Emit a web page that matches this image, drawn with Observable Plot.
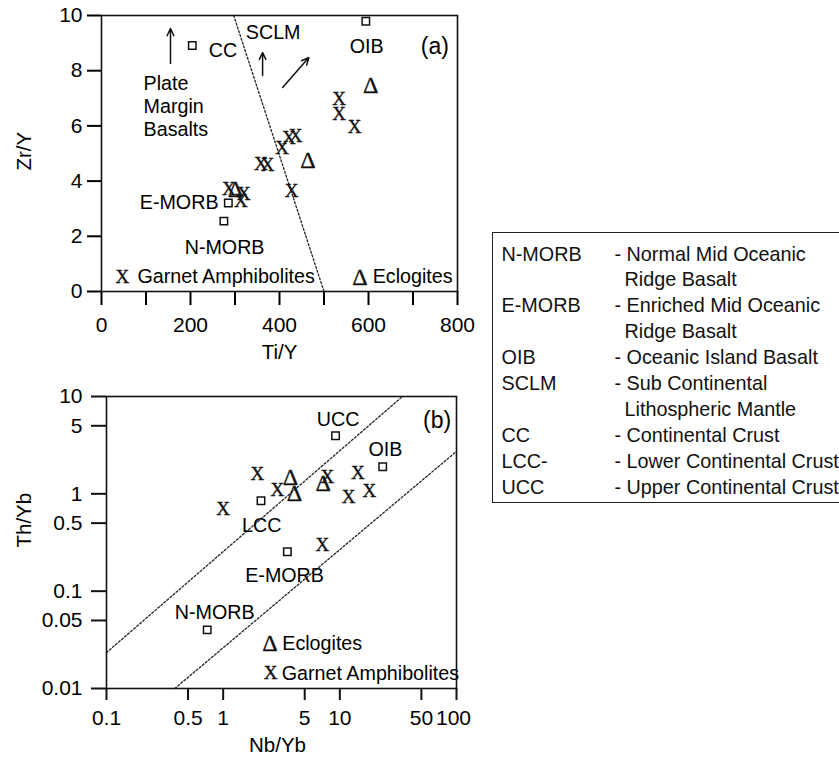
<!DOCTYPE html>
<html><head><meta charset="utf-8">
<script src="https://cdn.jsdelivr.net/npm/d3@7"></script>
<script src="https://cdn.jsdelivr.net/npm/@observablehq/plot@0.6"></script>
<style>
body{margin:0;background:#fff;width:839px;height:763px;overflow:hidden;position:relative;font-family:"Liberation Sans",Arial,sans-serif;color:#000;}
#a{position:absolute;left:0;top:0}
#b{position:absolute;left:0;top:375px}
svg{display:block}
#legend{position:absolute;left:492px;top:232px;width:360px;height:271px;border:1.5px solid #222;box-sizing:border-box;}
.cell{position:absolute;font-size:19.8px;line-height:26px;white-space:nowrap;color:#111}
</style></head><body>
<div id="a"></div><div id="b"></div><div id="legend"></div>
<script>
// ---------- Panel (a): Zr/Y vs Ti/Y ----------
const aRefNames = ["CC", "OIB", "E-MORB", "N-MORB"];
const aRefTiY   = [204, 594, 285, 275];
const aRefZrY   = [8.91, 9.79, 3.21, 2.55];

const aGarnetTiY = [286, 320, 313, 358, 373, 406, 421, 436, 427, 534, 534, 569];
const aGarnetZrY = [3.73, 3.55, 3.30, 4.64, 4.57, 5.22, 5.58, 5.65, 3.66, 6.99, 6.45, 5.98];

const aEclogiteTiY = [605, 464, 301];
const aEclogiteZrY = [7.46, 4.75, 3.72];

const aBoundaryTiY = [297, 500];
const aBoundaryZrY = [10, 0];

const aXTicks = [0, 100, 200, 300, 400, 500, 600, 700, 800];
const aYTicks = [0, 2, 4, 6, 8, 10];

// annotation arrows (Ti/Y, Zr/Y)
const aArrowX1 = [155, 362, 407];
const aArrowY1 = [8.26, 7.83, 7.39];
const aArrowX2 = [155, 362, 466];
const aArrowY2 = [9.53, 8.66, 8.48];

// ---------- Panel (b): Th/Yb vs Nb/Yb ----------
const bRefNames = ["UCC", "OIB", "LCC", "E-MORB", "N-MORB"];
const bRefNbYb  = [9.19, 23.3, 2.11, 3.55, 0.73];
const bRefThYb  = [3.95, 1.90, 0.85, 0.254, 0.040];

const bGarnetNbYb = [1.0, 1.96, 2.91, 7.8, 14.3, 11.9, 17.9, 7.07];
const bGarnetThYb = [0.708, 1.60, 1.10, 1.51, 1.66, 0.94, 1.08, 0.30];

const bEclogiteNbYb = [3.78, 4.09, 7.21];
const bEclogiteThYb = [1.47, 1.02, 1.28];

const bUpperLineNbYb = [0.1, 34.4];
const bUpperLineThYb = [0.0234, 10];
const bLowerLineNbYb = [0.385, 100];
const bLowerLineThYb = [0.01, 2.73];

const bXTicks = [0.1, 0.5, 1, 5, 10, 50, 100];
const bYTicks = [0.01, 0.05, 0.1, 0.5, 1, 5, 10];

// ---------- Legend ----------
const legendAbbr = ["N-MORB", "E-MORB", "OIB", "SCLM", "CC", "LCC-", "UCC"];
const legendDesc = [
  ["Normal Mid Oceanic", "Ridge Basalt"],
  ["Enriched Mid Oceanic", "Ridge Basalt"],
  ["Oceanic Island Basalt"],
  ["Sub Continental", "Lithospheric Mantle"],
  ["Continental Crust"],
  ["Lower Continental Crust"],
  ["Upper Continental Crust"]
];

const SANS = "Liberation Sans, Arial, Helvetica, sans-serif";
const SERIF = "Liberation Serif, Times New Roman, serif";
const FS = 19.7;      // annotation font size
const TICKFS = 21;    // tick label font size
const DASH = "2,2";

const zip = (xs, ys, extra) => xs.map((x, i) => ({x, y: ys[i], name: extra ? extra[i] : null}));

const xMark = (data, opts = {}) => Plot.text(data, {x: "x", y: "y", text: () => "X", fontFamily: SERIF, fontSize: 19, stroke: "#111", strokeWidth: 0.35, fill: "#111", ...opts});
const triMark = (data, opts = {}) => Plot.text(data, {x: "x", y: "y", text: () => "Δ", fontFamily: SERIF, fontSize: 24, stroke: "#111", strokeWidth: 0.3, fill: "#111", ...opts});

// ----- build panel (a)
const aRefs = zip(aRefTiY, aRefZrY, aRefNames);
const aGarnet = zip(aGarnetTiY, aGarnetZrY);
const aEclogite = zip(aEclogiteTiY, aEclogiteZrY);
const aBoundary = zip(aBoundaryTiY, aBoundaryZrY);
const aArrows = aArrowX1.map((x1, i) => ({x1, y1: aArrowY1[i], x2: aArrowX2[i], y2: aArrowY2[i]}));

const aTextMiddle = [
  {x: 385.7, y: 9.37, t: "SCLM"},
  {x: 596, y: 8.88, t: "OIB"},
  {x: 276.6, y: 1.59, t: "N-MORB"}
];
const aTextStart = [
  {x: 241, y: 8.73, t: "CC"},
  {x: 81, y: 0.53, t: "Garnet Amphibolites"},
  {x: 609.5, y: 0.53, t: "Eclogites"}
];
const aTextEnd = [
  {x: 263, y: 3.21, t: "E-MORB"}
];

const plotA = Plot.plot({
  width: 485, height: 375,
  marginLeft: 101, marginRight: 28, marginTop: 15, marginBottom: 84,
  style: {fontFamily: SANS, fontSize: TICKFS + "px", background: "white", color: "black"},
  x: {domain: [0, 800]},
  y: {domain: [0, 10]},
  marks: [
    Plot.line(aBoundary, {x: "x", y: "y", stroke: "#222", strokeWidth: 1.3, strokeDasharray: DASH}),
    Plot.arrow(aArrows, {x1: "x1", y1: "y1", x2: "x2", y2: "y2", stroke: "#111", strokeWidth: 1.5, headLength: 8, headAngle: 50}),
    Plot.dot(aRefs, {x: "x", y: "y", symbol: "square", r: 4.2, stroke: "#111", fill: "white", strokeWidth: 1.5}),
    xMark(aGarnet),
    triMark(aEclogite),
    xMark([{x: 47, y: 0.53}]),
    triMark([{x: 581, y: 0.53}]),
    Plot.text(aTextMiddle, {x: "x", y: "y", text: "t", fontSize: FS}),
    Plot.text(aTextStart, {x: "x", y: "y", text: "t", textAnchor: "start", fontSize: FS}),
    Plot.text(aTextEnd, {x: "x", y: "y", text: "t", textAnchor: "end", fontSize: FS}),
    Plot.text([{x: 749, y: 8.88, t: "(a)"}], {x: "x", y: "y", text: "t", fontSize: 23}),
    Plot.text([{x: 94.5, y: 6.74, t: "Plate\nMargin\nBasalts"}], {x: "x", y: "y", text: "t", textAnchor: "start", lineHeight: 1.17, fontSize: FS}),
    Plot.axisX(aXTicks, {tickFormat: d => d % 200 === 0 ? String(d) : "", tickSize: 14, tickPadding: 12, strokeWidth: 2, label: null}),
    Plot.axisY(aYTicks, {tickFormat: d => String(d), tickSize: 14, tickPadding: 5, strokeWidth: 2, label: null}),
    Plot.frame({stroke: "#111", strokeWidth: 1.6}),
    Plot.text(["Ti/Y"], {frameAnchor: "bottom", text: d => d, dy: 67, fontSize: 20.5}),
    Plot.text(["Zr/Y"], {frameAnchor: "left", text: d => d, rotate: -90, dx: -77, dy: 17, fontSize: 20.5})
  ]
});
document.getElementById("a").appendChild(plotA);

// ----- build panel (b)
const bRefs = zip(bRefNbYb, bRefThYb, bRefNames);
const bGarnet = zip(bGarnetNbYb, bGarnetThYb);
const bEclogite = zip(bEclogiteNbYb, bEclogiteThYb);
const bUpper = zip(bUpperLineNbYb, bUpperLineThYb);
const bLower = zip(bLowerLineNbYb, bLowerLineThYb);

const bText = [
  {x: 9.66, y: 5.71, t: "UCC"},
  {x: 24.6, y: 2.81, t: "OIB"},
  {x: 2.14, y: 0.47, t: "LCC"},
  {x: 3.36, y: 0.1456, t: "E-MORB"},
  {x: 0.846, y: 0.06, t: "N-MORB"}
];
const bLegendText = [
  {x: 3.21, y: 0.0291, t: "Eclogites"},
  {x: 3.18, y: 0.0143, t: "Garnet Amphibolites"}
];

const bW = 485, bH = 388, bML = 106, bMR = 29, bMT = 21, bMB = 75;
const bFrameW = bW - bML - bMR, bFrameH = bH - bMT - bMB;
const bXTick = 12, bYTick = 15;

const plotB = Plot.plot({
  width: bW, height: bH,
  marginLeft: bML, marginRight: bMR, marginTop: bMT, marginBottom: bMB,
  style: {fontFamily: SANS, fontSize: TICKFS + "px", background: "white", color: "black"},
  x: {type: "log", domain: [0.1, 100], axis: null},
  y: {type: "log", domain: [0.01, 10], axis: null},
  marks: [
    Plot.line(bUpper, {x: "x", y: "y", stroke: "#222", strokeWidth: 1.3, strokeDasharray: DASH}),
    Plot.line(bLower, {x: "x", y: "y", stroke: "#222", strokeWidth: 1.3, strokeDasharray: DASH}),
    Plot.dot(bRefs, {x: "x", y: "y", symbol: "square", r: 4.2, stroke: "#111", fill: "white", strokeWidth: 1.5}),
    xMark(bGarnet),
    triMark(bEclogite),
    triMark([{x: 2.52, y: 0.0291}]),
    xMark([{x: 2.55, y: 0.0143}]),
    Plot.text(bText, {x: "x", y: "y", text: "t", fontSize: FS}),
    Plot.text([{x: 68.2, y: 5.6, t: "(b)"}], {x: "x", y: "y", text: "t", fontSize: 23}),
    Plot.text(bLegendText, {x: "x", y: "y", text: "t", textAnchor: "start", fontSize: FS}),
    // x-axis ticks and labels (log scale)
    Plot.ruleX(bXTicks, {x: d => d, insetTop: bFrameH - bXTick, dy: bXTick, stroke: "#111", strokeWidth: 2}),
    Plot.text(bXTicks.filter(d => d !== 100), {x: d => d, frameAnchor: "bottom", lineAnchor: "top", dy: bXTick + 10, text: d => String(d), fontSize: TICKFS}),
    Plot.text([100], {x: d => d, frameAnchor: "bottom", lineAnchor: "top", dy: bXTick + 10, dx: -3, text: d => String(d), fontSize: TICKFS}),
    // y-axis ticks and labels (log scale)
    Plot.ruleY(bYTicks, {y: d => d, insetRight: bFrameW - bYTick, dx: -bYTick, stroke: "#111", strokeWidth: 2}),
    Plot.text(bYTicks, {y: d => d, frameAnchor: "left", textAnchor: "end", dx: -(bYTick + 9), text: d => String(d), fontSize: TICKFS}),
    Plot.frame({stroke: "#111", strokeWidth: 1.6}),
    Plot.text(["Nb/Yb"], {frameAnchor: "bottom", text: d => d, dy: 63, dx: -4, fontSize: 20.5}),
    Plot.text(["Th/Yb"], {frameAnchor: "left", text: d => d, rotate: -90, dx: -82, dy: 5, fontSize: 20.5})
  ]
});
document.getElementById("b").appendChild(plotB);

// ----- legend box (HTML)
const legend = document.getElementById("legend");
const boxLeft = 492, boxTop = 232, lineH = 25.9, firstCenter = 254;
let line = 0;
legendAbbr.forEach((abbr, i) => {
  legendDesc[i].forEach((desc, j) => {
    const top = firstCenter + line * lineH - 13 - boxTop - 1.5;
    if (j === 0) {
      const a = document.createElement("div");
      a.className = "cell"; a.textContent = abbr;
      a.style.left = (502 - boxLeft - 1.5) + "px"; a.style.top = top + "px";
      legend.appendChild(a);
    }
    const d = document.createElement("div");
    d.className = "cell";
    d.textContent = j === 0 ? "- " + desc : desc;
    d.style.left = ((j === 0 ? 615 : 625) - boxLeft - 1.5) + "px"; d.style.top = top + "px";
    legend.appendChild(d);
    line++;
  });
});
</script>
</body></html>
